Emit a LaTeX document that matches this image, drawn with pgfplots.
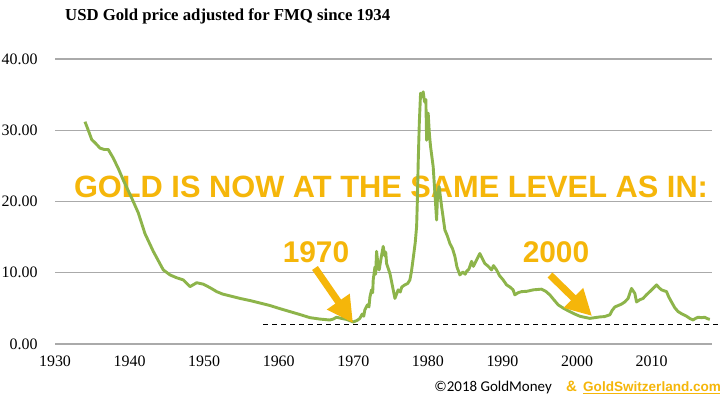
\documentclass[border=0pt]{standalone}
\usepackage{fontspec}
\setmainfont{Liberation Serif}
\newfontfamily\arialfont{Liberation Sans}
\newfontfamily\carlito{Carlito}
\usepackage{pgfplots}
\pgfplotsset{compat=1.18}
\usetikzlibrary{arrows.meta}
\definecolor{goldline}{RGB}{141,180,74}
\definecolor{annot}{RGB}{245,182,10}
\definecolor{gridgray}{RGB}{170,170,170}

\begin{document}
\begin{tikzpicture}[x=1bp,y=1bp]
\useasboundingbox[fill=white] (0,0) rectangle (720,398);
% title
\node[anchor=base west, inner sep=0, font=\bfseries\fontsize{16.8}{16.8}\selectfont] at (65,378) {USD Gold price adjusted for FMQ since 1934};
% big annotation (behind the line)
\node[anchor=base, inner sep=0, text=annot, font=\arialfont\bfseries\fontsize{30.9}{30.9}\selectfont] at (391,201) {GOLD IS NOW AT THE SAME LEVEL AS IN:};
\node[anchor=base, inner sep=0, text=annot, font=\arialfont\bfseries\fontsize{30}{30}\selectfont] at (316,136) {1970};
\node[anchor=base, inner sep=0, text=annot, font=\arialfont\bfseries\fontsize{30}{30}\selectfont] at (556,136) {2000};
\begin{axis}[
  at={(55bp,54bp)}, anchor=south west,
  scale only axis, width=657bp, height=285bp,
  xmin=1930, xmax=2018.1, ymin=0, ymax=40,
  clip=false,
  axis line style={draw=none},
  tick style={draw=none},
  xtick={1930,1940,...,2010},
  ytick={0,10,...,40},
  ymajorgrids,
  grid style={gridgray, line width=1.3bp},
  /pgf/number format/assume math mode=true,
  xticklabel style={/pgf/number format/1000 sep={}, font=\fontsize{16}{16}\selectfont, yshift=-8bp},
  yticklabel style={/pgf/number format/.cd, fixed, fixed zerofill, precision=2, /tikz/.cd, font=\fontsize{16}{16}\selectfont, xshift=-14bp},
]
\addplot[black, line width=1.1bp, dash pattern=on 5bp off 4bp] coordinates {(1957.9,2.8) (2019.1,2.8)};
\addplot[goldline, line width=2.9bp, line join=round] coordinates {
(1934.02,31.2) (1934.5,29.9) (1934.92,28.7) (1935.5,28.1) (1936.03,27.5) (1936.6,27.3)
(1937.14,27.3) (1937.81,26.1) (1938.5,24.6) (1939.16,23.0) (1940.28,20.5) (1941.17,18.4)
(1942.06,15.5) (1943.18,13.0) (1944.52,10.4) (1945.42,9.7) (1946.3,9.3) (1947.20,9.0)
(1948.10,8.05) (1949.00,8.6) (1949.88,8.4) (1950.8,7.9) (1951.68,7.35) (1952.5,7.0)
(1953.46,6.75) (1954.8,6.4) (1956.14,6.1) (1957.5,5.75) (1958.82,5.4) (1960.2,4.95)
(1961.50,4.55) (1962.8,4.15) (1964.18,3.7) (1965.5,3.5) (1966.86,3.37) (1967.3,3.5)
(1967.76,3.75) (1968.4,3.6) (1969.10,3.45) (1969.6,3.25) (1969.99,3.1) (1970.5,3.3)
(1970.88,3.6) (1971.2,4.2) (1971.4,3.9) (1971.55,4.8) (1971.9,5.5) (1972.1,5.2) (1972.23,6.6) (1972.45,7.6)
(1972.6,7.2) (1972.67,9.0) (1972.9,10.8) (1973.0,9.8) (1973.12,13.0) (1973.3,11.2) (1973.47,10.4) (1973.75,12.2)
(1974.01,13.7) (1974.2,12.4) (1974.35,12.9) (1974.46,11.3) (1974.91,9.9) (1975.2,8.4) (1975.58,6.4)
(1976.02,7.6) (1976.3,7.3) (1976.5,8.0) (1976.92,8.3) (1977.3,8.5) (1977.59,9.0) (1977.8,10.2) (1978.03,12.0) (1978.3,14.2)
(1978.49,16.5) (1978.6,20.5) (1978.70,25.4) (1978.85,31.0) (1979.02,35.2) (1979.2,34.7) (1979.37,35.4)
(1979.55,34.0) (1979.73,34.3) (1979.83,28.6) (1980.04,32.4) (1980.2,29.5) (1980.36,27.7)
(1980.71,24.9) (1980.95,21.0) (1981.17,17.4) (1981.3,21.0) (1981.51,22.1) (1981.84,19.3)
(1982.28,16.0) (1982.6,15.2) (1982.95,14.1) (1983.3,13.4) (1983.62,12.3) (1983.9,10.8) (1984.29,9.7) (1984.7,10.1)
(1985.0,9.8) (1985.19,10.2) (1985.5,10.5) (1985.86,11.6) (1986.1,10.9) (1986.30,11.3) (1986.97,12.7) (1987.3,12.0)
(1987.64,11.3) (1988.1,10.9) (1988.54,10.4) (1988.8,11.0) (1989.21,10.4) (1989.6,9.6) (1990.09,9.0) (1990.55,8.3)
(1991.0,8.0) (1991.43,7.6) (1991.66,6.9) (1992.1,7.2) (1992.56,7.35) (1993.3,7.4) (1994.12,7.6)
(1995.24,7.7) (1995.8,7.4) (1996.35,6.9) (1996.9,6.2) (1997.47,5.5) (1998.2,5.0)
(1999.03,4.55) (1999.7,4.2) (2000.37,3.9) (2001.0,3.75) (2001.71,3.6) (2002.4,3.7)
(2003.06,3.8) (2003.7,3.85) (2004.40,4.1) (2004.7,4.7) (2005.07,5.2) (2005.97,5.6)
(2006.4,5.9) (2006.85,6.4) (2007.1,7.2) (2007.31,7.8) (2007.75,7.1) (2007.98,5.9)
(2008.4,6.2) (2008.86,6.4) (2009.3,6.9) (2009.76,7.35) (2010.2,7.8) (2010.66,8.3)
(2011.0,7.9) (2011.33,7.6) (2012.00,7.35) (2012.3,6.6) (2012.67,5.9) (2013.1,5.1)
(2013.55,4.55) (2014.1,4.2) (2014.68,3.9) (2015.1,3.6) (2015.56,3.37) (2015.9,3.6)
(2016.23,3.75) (2016.7,3.7) (2017.13,3.75) (2017.5,3.55) (2017.80,3.45)
};
\end{axis}
% arrows
\draw[annot, line width=7bp, -{Triangle[width=26bp,length=26bp]}] (315,130) -- (353,75);
\draw[annot, line width=7bp, -{Triangle[width=26bp,length=26bp]}] (550,123) -- (592,82);
% footer
\node[anchor=base east, inner sep=0, font=\carlito\fontsize{15}{15}\selectfont] at (552,7) {©2018 GoldMoney};
\node[anchor=base west, inner sep=0, text=annot, font=\arialfont\bfseries\fontsize{15}{15}\selectfont] at (566,7) {\&};
\node[anchor=base west, inner sep=0, text=annot, font=\arialfont\bfseries\fontsize{13.6}{13.6}\selectfont] (gs) at (583,7) {GoldSwitzerland.com};
\draw[annot, line width=1bp] ([yshift=-2bp]gs.base west) -- ([yshift=-2bp]gs.base east);
\end{tikzpicture}
\end{document}
